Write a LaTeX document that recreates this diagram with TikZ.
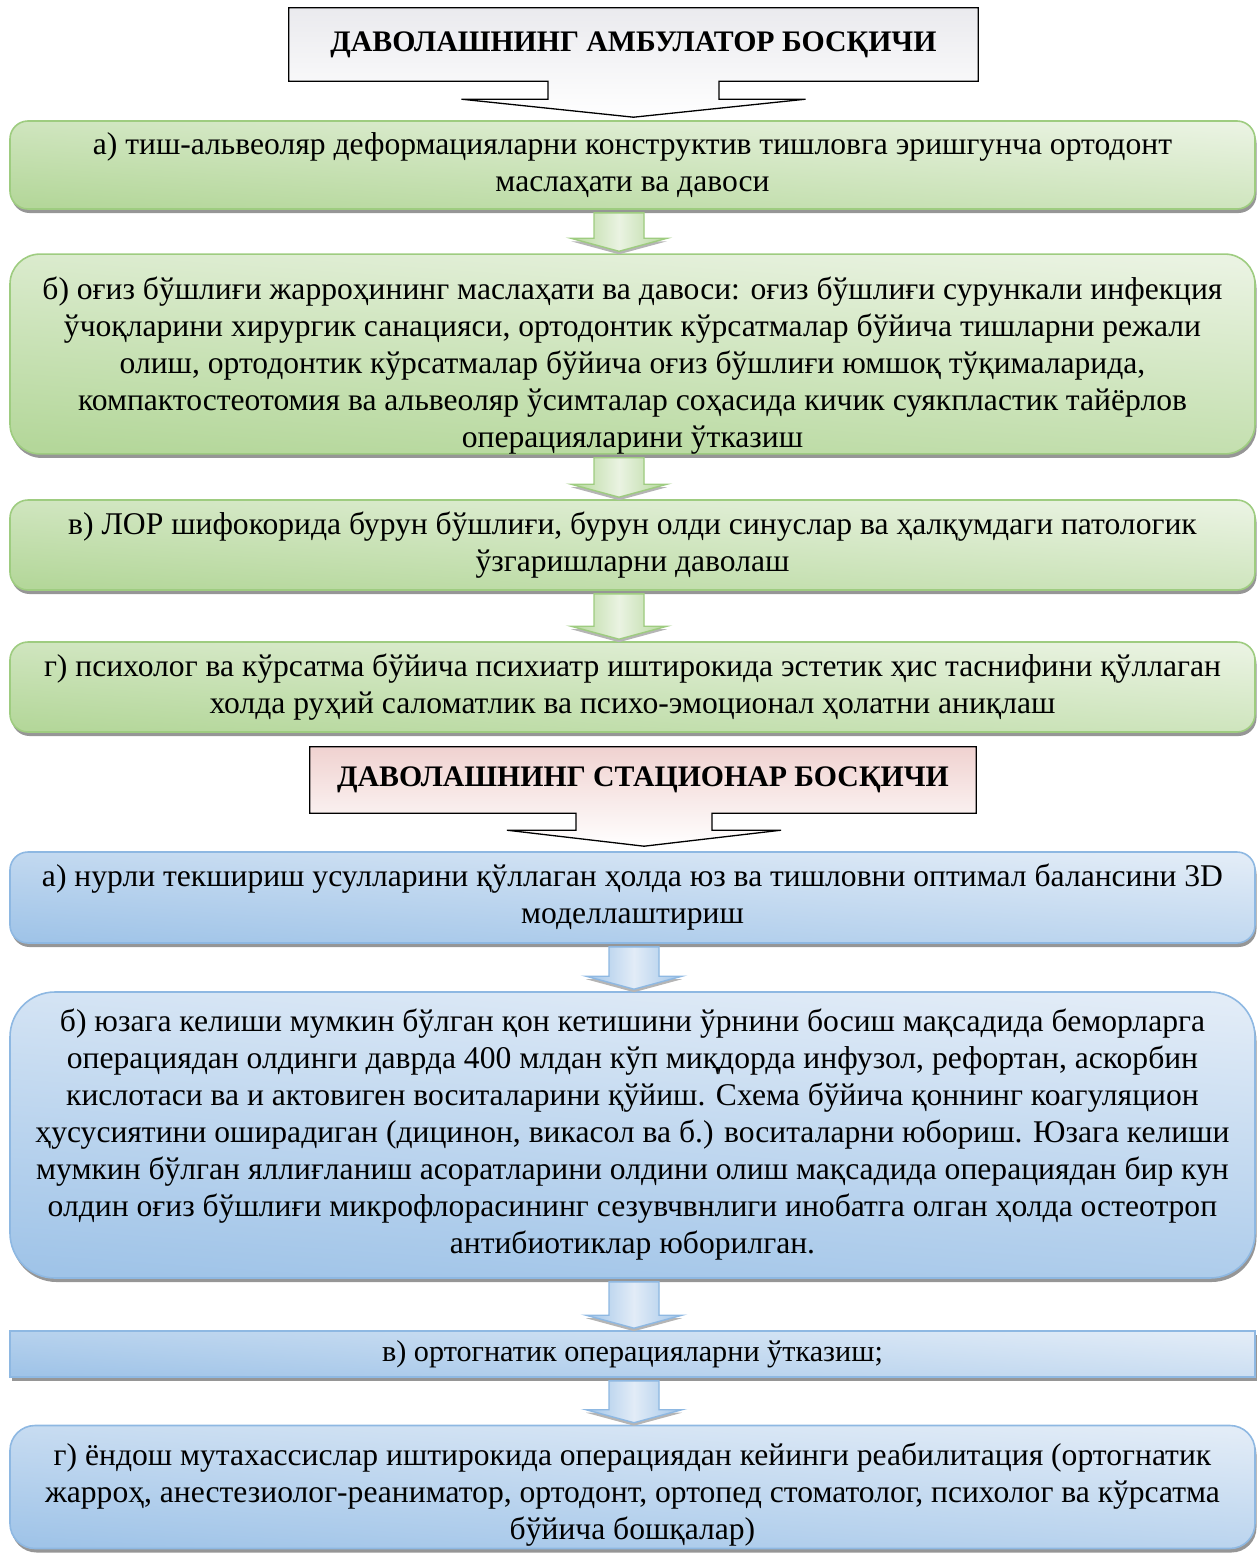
\documentclass[tikz,border=0pt]{standalone}
\usepackage{fontspec}
\setmainfont{Liberation Serif}
\usetikzlibrary{shadows,calc,backgrounds}
\definecolor{gtop}{RGB}{234,243,226}
\definecolor{gmid}{RGB}{214,232,200}
\definecolor{gbot}{RGB}{180,215,154}
\definecolor{gline}{RGB}{158,204,128}
\definecolor{btop}{RGB}{226,236,247}
\definecolor{bmid}{RGB}{204,222,242}
\definecolor{bbot}{RGB}{160,196,232}
\definecolor{bline}{RGB}{142,184,226}
\definecolor{pinktop}{RGB}{240,210,208}
\definecolor{graytop}{RGB}{234,234,238}
\definecolor{shad}{RGB}{150,150,150}
\newcommand\bkarrow[4]{%
  \path[#4] let \p1=($(#1.south)+(#3,0)$), \p2=($(#2.north)+(#3,0)$) in
    (\x1-25pt,\y1-3pt) -- (\x1+25pt,\y1-3pt) -- (\x1+25pt,\y2+15pt) -- (\x1+48pt,\y2+15pt)
    -- (\x1,\y2+2pt) -- (\x1-48pt,\y2+15pt) -- (\x1-25pt,\y2+15pt) -- cycle;}
\begin{document}
\begin{tikzpicture}[x=1pt,y=-1pt,
  txt/.style={font=\fontsize{31.6}{37}\selectfont, align=center, text=black, inner sep=0pt},
  hdrtxt/.style={font=\fontsize{29.8}{34}\selectfont\bfseries, align=center, inner sep=0pt},
  hdr/.style={draw=black, line width=1.3pt, line join=miter},
  boxshadow/.style={general shadow={fill=shad, shadow xshift=1.5pt, shadow yshift=-4pt}},
  gbox/.style={txt, draw=gline, line width=1.6pt, top color=gtop, middle color=gmid, bottom color=gbot, shading angle=-4, rounded corners=18pt, boxshadow, minimum width=1245},
  bbox/.style={txt, draw=bline, line width=1.6pt, top color=btop, middle color=bmid, bottom color=bbot, shading angle=-4, rounded corners=18pt, boxshadow, minimum width=1245},
  garrow/.style={draw=gline, line width=1.4pt, left color=gbot, right color=gbot, middle color=gtop, general shadow={fill=shad!70, shadow xshift=0pt, shadow yshift=-3pt}},
  barrow/.style={draw=bline, line width=1.4pt, left color=bbot, right color=bbot, middle color=btop, general shadow={fill=shad!70, shadow xshift=0pt, shadow yshift=-3pt}}
]
\useasboundingbox (0,0) rectangle (1259,1553);

% ---- header 1
\node[hdrtxt, minimum width=689, minimum height=73] (h1) at (633.5,44.5) {ДАВОЛАШНИНГ АМБУЛАТОР БОСҚИЧИ};
\begin{scope}[on background layer]
\draw[hdr, top color=graytop, bottom color=white] (h1.north west) -- (h1.north east) -- (h1.south east)
  -- ([xshift=85.5pt]h1.south) -- ([xshift=85.5pt,yshift=-18pt]h1.south) -- ([xshift=172pt,yshift=-18pt]h1.south)
  -- ([yshift=-36pt]h1.south) -- ([xshift=-172pt,yshift=-18pt]h1.south) -- ([xshift=-85.5pt,yshift=-18pt]h1.south)
  -- ([xshift=-85.5pt]h1.south) -- (h1.south west) -- cycle;
\end{scope}

% ---- green boxes
\node[gbox, minimum height=88] (ga) at (632.5,165) {а) тиш-альвеоляр деформацияларни конструктив тишловга эришгунча ортодонт\\маслаҳати ва давоси};
\node[gbox, minimum height=197, rounded corners=30pt] (gb) at (632.5,354) {\rule{0pt}{45pt}б) оғиз бўшлиғи жарроҳининг маслаҳати ва давоси: оғиз бўшлиғи сурункали инфекция\\ўчоқларини хирургик санацияси, ортодонтик кўрсатмалар бўйича тишларни режали\\олиш, ортодонтик кўрсатмалар бўйича оғиз бўшлиғи юмшоқ тўқималарида,\\компактостеотомия ва альвеоляр ўсимталар соҳасида кичик суякпластик тайёрлов\\операцияларини ўтказиш};
\node[gbox, minimum height=90] (gc) at (632.5,545) {в) ЛОР шифокорида бурун бўшлиғи, бурун олди синуслар ва ҳалқумдаги патологик\\ўзгаришларни даволаш};
\node[gbox, minimum height=90] (gd) at (632.5,687) {г) психолог ва кўрсатма бўйича психиатр иштирокида эстетик ҳис таснифини қўллаган\\холда руҳий саломатлик ва психо-эмоционал ҳолатни аниқлаш};

\bkarrow{ga}{gb}{-13.5}{garrow}
\bkarrow{gb}{gc}{-13.5}{garrow}
\bkarrow{gc}{gd}{-13.5}{garrow}

% ---- header 2
\node[hdrtxt, minimum width=666, minimum height=66] (h2) at (643,780) {ДАВОЛАШНИНГ СТАЦИОНАР БОСҚИЧИ};
\begin{scope}[on background layer]
\draw[hdr, top color=pinktop, bottom color=white] (h2.north west) -- (h2.north east) -- (h2.south east)
  -- ([xshift=69pt]h2.south) -- ([xshift=69pt,yshift=-17pt]h2.south) -- ([xshift=138pt,yshift=-17pt]h2.south)
  -- ([xshift=1pt,yshift=-33pt]h2.south) -- ([xshift=-136pt,yshift=-17pt]h2.south) -- ([xshift=-67pt,yshift=-17pt]h2.south)
  -- ([xshift=-67pt]h2.south) -- (h2.south west) -- cycle;
\end{scope}

% ---- blue boxes
\node[bbox, minimum height=91] (ba) at (632.5,897.5) {а) нурли текшириш усулларини қўллаган ҳолда юз ва тишловни оптимал балансини 3D\\моделлаштириш};
\node[bbox, minimum height=286, rounded corners=45pt] (bb) at (632.5,1135) {б) юзага келиши мумкин бўлган қон кетишини ўрнини босиш мақсадида беморларга\\операциядан олдинги даврда 400 млдан кўп миқдорда инфузол, рефортан, аскорбин\\кислотаси ва и актовиген воситаларини қўйиш. Схема бўйича қоннинг коагуляцион\\ҳусусиятини оширадиган (дицинон, викасол ва б.) воситаларни юбориш. Юзага келиши\\мумкин бўлган яллиғланиш асоратларини олдини олиш мақсадида операциядан бир кун\\олдин оғиз бўшлиғи микрофлорасининг сезувчвнлиги инобатга олган ҳолда остеотроп\\антибиотиклар юборилган.};
\node[bbox, minimum height=46, rounded corners=0pt, font=\fontsize{30.2}{37}\selectfont] (bc) at (632.5,1354) {в) ортогнатик операцияларни ўтказиш;};
\node[bbox, minimum height=123, rounded corners=25pt] (bd) at (632.5,1487) {\rule{0pt}{38pt}г) ёндош мутахассислар иштирокида операциядан кейинги реабилитация (ортогнатик\\жарроҳ, анестезиолог-реаниматор, ортодонт, ортопед стоматолог, психолог ва кўрсатма\\бўйича бошқалар)};

\bkarrow{ba}{bb}{1.5}{barrow}
\bkarrow{bb}{bc}{1.5}{barrow}
\bkarrow{bc}{bd}{1.5}{barrow}
\end{tikzpicture}
\end{document}
